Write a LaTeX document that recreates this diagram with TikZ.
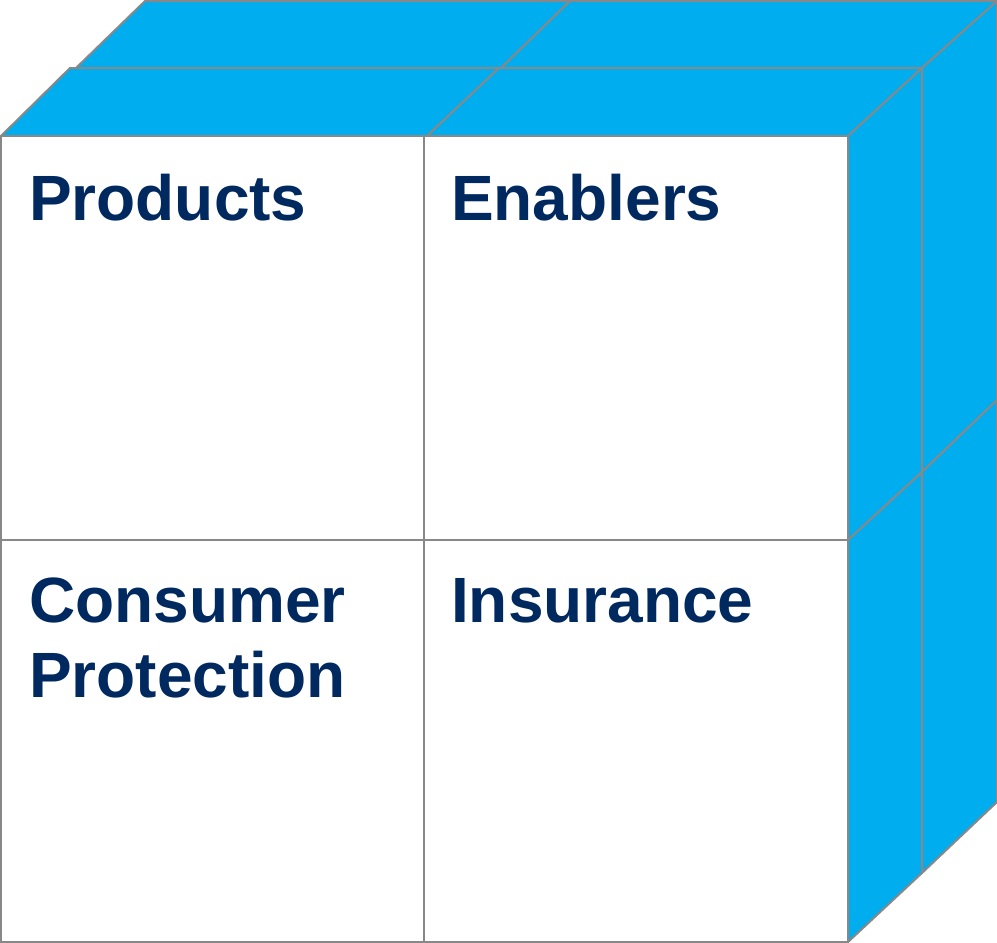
\documentclass[tikz,border=0pt]{standalone}
\usepackage{fontspec}
\setmainfont{Liberation Sans}
\definecolor{cubeblue}{RGB}{0,173,239}
\definecolor{edgegray}{RGB}{136,136,136}
\definecolor{navy}{RGB}{0,41,96}
\tikzset{
  face/.style={draw=edgegray, line width=2pt, line join=round, fill=cubeblue},
  front/.style={draw=edgegray, line width=2pt, fill=white},
  label/.style={anchor=base west, inner sep=0pt, text=navy, font=\fontsize{64}{75}\selectfont\bfseries, align=left}
}
\begin{document}
\begin{tikzpicture}[x=1pt,y=-1pt]
\useasboundingbox (0,0) rectangle (997,943);
% back layer top
\filldraw[face] (76,68) -- (501,68) -- (570,1) -- (145,1) -- cycle;
\filldraw[face] (501,68) -- (922,68) -- (997,1) -- (570,1) -- cycle;
% back layer right
\filldraw[face] (922,68) -- (997,1) -- (997,400) -- (922,472) -- cycle;
\filldraw[face] (922,472) -- (997,400) -- (997,802) -- (922,873) -- cycle;
% front layer top
\filldraw[face] (1,136) -- (427,136) -- (499,68) -- (70,68) -- cycle;
\filldraw[face] (427,136) -- (848,136) -- (922,68) -- (499,68) -- cycle;
% front layer right
\filldraw[face] (848,136) -- (922,68) -- (922,472) -- (848,540) -- cycle;
\filldraw[face] (848,540) -- (922,472) -- (922,873) -- (848,942) -- cycle;
% front faces
\filldraw[front] (1,136) rectangle (424,540);
\filldraw[front] (424,136) rectangle (848,540);
\filldraw[front] (1,540) rectangle (424,942);
\filldraw[front] (424,540) rectangle (848,942);
% labels
\node[label] (products) at (29,220) {Products};
\node[label] (enablers) at (451,220) {Enablers};
\node[label] (consumer) at (29,622) {Consumer};
\node[label] (protection) at (29,697) {Protection};
\node[label] (insurance) at (451,622) {Insurance};
\end{tikzpicture}
\end{document}
